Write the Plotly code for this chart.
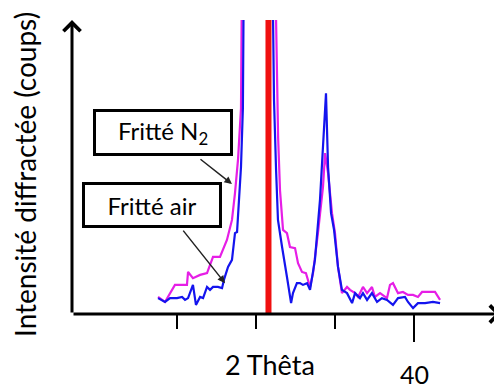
import plotly.graph_objects as go

# Diffractogrammes (2 theta en degres, intensite en coups)
theta_n2 = [23.80, 24.24, 24.87, 25.63, 25.70, 26.01, 26.46, 26.90, 27.28, 27.72,
            28.16, 28.48, 28.67, 28.86, 29.05, 29.18, 30.20, 31.27, 31.33, 31.40,
            31.52, 31.71, 31.96, 32.15, 32.47, 32.66, 32.91, 33.16, 33.42, 33.61,
            33.92, 34.24, 34.37, 34.56, 34.81, 35.00, 35.19, 35.44, 35.76, 35.95,
            36.27, 36.46, 36.77, 37.03, 37.34, 37.53, 37.85, 38.29, 38.48, 38.67,
            38.99, 39.30, 39.62, 39.94, 40.25, 40.51, 41.01, 41.33, 41.65]
coups_n2 = [58, 41, 99, 99, 143, 122, 133, 139, 194, 194,
            252, 320, 411, 524, 700, 1000, 9000, 1000, 800, 600,
            420, 286, 275, 228, 224, 173, 143, 139, 92, 139,
            275, 432, 547, 479, 343, 275, 160, 71, 92, 82,
            71, 58, 92, 71, 92, 58, 71, 54, 99, 105,
            71, 75, 65, 65, 58, 75, 75, 75, 48]

theta_air = [23.80, 24.24, 24.56, 25.00, 25.32, 25.51, 25.70, 26.01, 26.20, 26.46,
             26.65, 26.90, 27.09, 27.28, 27.59, 27.85, 27.97, 28.23, 28.48, 28.67,
             28.80, 28.92, 29.05, 29.17, 29.30, 30.20, 31.08, 31.14, 31.27, 31.39,
             31.65, 31.84, 31.96, 32.22, 32.34, 32.59, 32.78, 32.97, 33.23, 33.42,
             33.73, 34.05, 34.24, 34.43, 34.56, 34.75, 34.94, 35.19, 35.44, 35.76,
             36.08, 36.27, 36.58, 36.77, 37.03, 37.34, 37.66, 37.97, 38.29, 38.67,
             38.99, 39.43, 39.62, 39.94, 40.25, 40.70, 41.20, 41.65]
coups_air = [54, 41, 54, 54, 58, 48, 54, 99, 31, 58,
             54, 92, 82, 92, 92, 88, 116, 160, 184, 275,
             279, 390, 500, 700, 1000, 9000, 1000, 728, 490, 320,
             228, 173, 126, 37, 71, 105, 105, 99, 105, 82,
             184, 388, 581, 751, 500, 343, 286, 160, 82, 71,
             37, 71, 54, 71, 48, 71, 41, 54, 48, 31,
             54, 58, 41, 20, 37, 37, 41, 37]

pic_ref = 30.79
tick_vals = [25, 30, 35, 40]

# la page html a une marge de 8 px autour de la figure
OFF = 8
W, H = 502, 389
L, T = 72 - OFF, 20 - OFF
R = W - (501 - OFF)
B = H - (314 - OFF)
pw, ph = W - L - R, H - T - B
deg_px = 15.8


def px(x):
    return (x - OFF - L) / pw


def py(y):
    return (T + ph - (y - OFF)) / ph


fig = go.Figure()
fig.add_trace(go.Scatter(x=theta_n2, y=coups_n2, mode="lines",
                         line=dict(color="#e61ee6", width=2.2), name="Fritté N2"))
fig.add_trace(go.Scatter(x=theta_air, y=coups_air, mode="lines",
                         line=dict(color="#1414ee", width=2.2), name="Fritté air"))

# raie de reference
fig.add_shape(type="line", x0=pic_ref, x1=pic_ref, y0=0, y1=1000, xref="x", yref="y",
              line=dict(color="#f01010", width=6), layer="below")
# graduation 40 plus longue
fig.add_shape(type="line", x0=40, x1=40, xref="x", yref="paper",
              y0=-14 / ph, y1=-28 / ph, line=dict(color="black", width=2))

font = "Lato"
ann = []
# axes avec fleches
ann.append(dict(x=1, y=0, xref="paper", yref="paper", ax=-pw, ay=0,
                text="", showarrow=True, arrowhead=4, arrowsize=1.1, arrowwidth=3,
                arrowcolor="black"))
ann.append(dict(x=0, y=1, xref="paper", yref="paper", ax=0, ay=ph,
                text="", showarrow=True, arrowhead=4, arrowsize=1.1, arrowwidth=3,
                arrowcolor="black"))
# fleches des etiquettes
ann.append(dict(x=28.48, y=442, xref="x", yref="y", ax=-33, ay=-26, text="",
                showarrow=True, arrowhead=2, arrowsize=1, arrowwidth=1.5, arrowcolor="#222"))
ann.append(dict(x=28.04, y=105, xref="x", yref="y", ax=-43, ay=-54, text="",
                showarrow=True, arrowhead=2, arrowsize=1, arrowwidth=1.5, arrowcolor="#222"))
# etiquettes
box = dict(xref="paper", yref="paper", showarrow=False, xanchor="center", yanchor="middle",
           font=dict(family=font, size=24, color="black"),
           bordercolor="black", borderwidth=3, bgcolor="white", borderpad=0)
ann.append(dict(box, x=px(163), y=py(132.5), text="Fritté N<sub>2</sub>", width=134, height=41))
ann.append(dict(box, x=px(152), y=py(205), text="Fritté air", width=134, height=40))
txt = dict(xref="paper", yref="paper", showarrow=False, xanchor="center", yanchor="middle")
ann.append(dict(txt, x=px(25), y=py(175), text="Intensité diffractée (coups)", textangle=-90,
                font=dict(family=font, size=28, color="black")))
ann.append(dict(txt, x=px(270), y=py(364), text="2 Thêta",
                font=dict(family=font, size=27, color="black")))
ann.append(dict(txt, x=40, xref="x", y=py(374), text="40",
                font=dict(family=font, size=25, color="black")))

fig.update_layout(
    width=W, height=H, margin=dict(l=L, r=R, t=T, b=B),
    paper_bgcolor="white", plot_bgcolor="white", showlegend=False,
    annotations=ann,
    xaxis=dict(range=[25 - (177 - 72) / deg_px, 25 + (501 - 177) / deg_px],
               tickvals=tick_vals, ticks="outside", ticklen=14, tickwidth=2,
               tickcolor="black", showticklabels=False, showgrid=False,
               zeroline=False, showline=False),
    yaxis=dict(range=[0, 1000], visible=False, showgrid=False),
)

fig.write_html("out.html")
